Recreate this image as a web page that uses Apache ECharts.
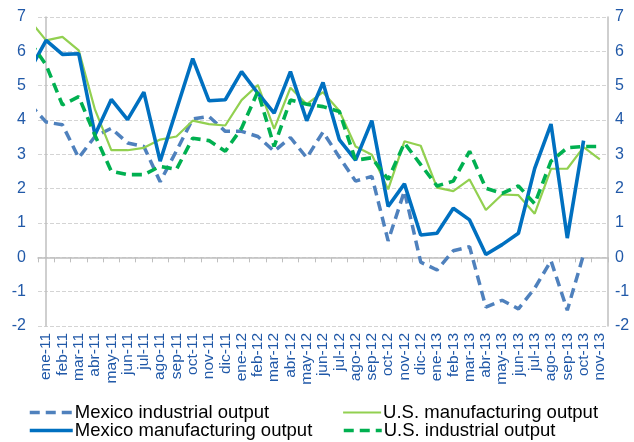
<!DOCTYPE html>
<html>
<head>
<meta charset="utf-8">
<script src="https://cdn.jsdelivr.net/npm/echarts@6/dist/echarts.min.js"></script>
<style>html,body{margin:0;padding:0;background:#fff}#c{width:634px;height:442px}</style>
</head>
<body>
<div id="c"></div>
<script>
// Month labels (first entry is the month before the visible range; it only feeds the line's lead-in)
const leadMonth = 'dic-10';
const months = ['ene-11','feb-11','mar-11','abr-11','may-11','jun-11','jul-11','ago-11','sep-11','oct-11','nov-11','dic-11',
  'ene-12','feb-12','mar-12','abr-12','may-12','jun-12','jul-12','ago-12','sep-12','oct-12','nov-12','dic-12',
  'ene-13','feb-13','mar-13','abr-13','may-13','jun-13','jul-13','ago-13','sep-13','oct-13','nov-13'];
const yTicks = [-2,-1,0,1,2,3,4,5,6,7];

// Values (lead-in value for dic-10 first, then ene-11 ... nov-13)
const mexicoIndustrial = [4.46,
  3.94,3.86,2.90,3.52,3.76,3.33,3.23,2.20,3.10,4.03,4.10,3.67,
  3.67,3.52,3.09,3.49,2.90,3.65,2.92,2.22,2.36,0.48,1.93,-0.14,
  -0.37,0.19,0.31,-1.45,-1.25,-1.50,-0.90,-0.10,-1.54,0.08,null];
const usManufacturing = [6.90,
  6.32,6.42,6.03,4.30,3.12,3.12,3.19,3.43,3.52,3.98,3.88,3.84,
  4.58,5.02,3.74,4.94,4.46,4.81,4.27,3.23,2.99,1.98,3.38,3.25,
  2.03,1.93,2.27,1.38,1.83,1.81,1.27,2.58,2.58,3.21,2.85];
const mexicoManufacturing = [5.46,
  6.32,5.91,5.93,3.57,4.60,4.01,4.81,2.80,4.30,5.79,4.56,4.59,
  5.41,4.78,4.20,5.41,3.98,5.09,3.43,2.83,3.98,1.48,2.14,0.65,
  0.70,1.43,1.09,0.08,0.37,0.70,2.59,3.88,0.56,3.40,null];
const usIndustrial = [6.28,
  5.60,4.44,4.68,3.55,2.51,2.41,2.41,2.65,2.56,3.47,3.40,3.09,
  3.76,4.83,3.23,4.58,4.46,4.39,4.25,2.83,2.90,2.27,3.33,2.70,
  2.08,2.22,3.09,2.01,1.86,2.08,1.56,2.80,3.19,3.23,3.23];

const names = ['Mexico industrial output','U.S. manufacturing output','Mexico manufacturing output','U.S. industrial output'];

function pts(arr){
  // x position = category index (lead-in month at -1)
  const out = [];
  arr.forEach((v,k)=>{ if(v!==null) out.push([k-1, v]); });
  return out;
}

const blueText = '#2159A8';
const axisGray = '#BFBFBF';
const font = '"Liberation Sans", Arial, sans-serif';

function legendItem(name, left, top, w, lw){
  return {orient:'horizontal', left:left, top:top, padding:0, itemWidth:w, itemHeight:12, itemGap:0,
    itemStyle:{opacity:0},
    lineStyle:{width:lw},
    textStyle:{color:'#000', fontSize:18.5, lineHeight:18, fontFamily:font, padding:[0,0,0,-3]},
    data:[name]};
}

const chart = echarts.init(document.getElementById('c'), null, {renderer:'canvas'});
chart.setOption({
  animation:false,
  backgroundColor:'#ffffff',
  grid:{left:38, right:26, top:17, bottom:116, containLabel:false},
  legend:[
    legendItem(names[0], 28, 403, 43, 3.5),
    legendItem(names[2], 28, 421, 43, 3.5),
    legendItem(names[1], 342, 403, 38, 2.2),
    legendItem(names[3], 342, 421, 38, 3.5)
  ],
  xAxis:[
    { // zero line with ticks
      type:'category', data:months, boundaryGap:true,
      axisLine:{show:true, onZero:true, onZeroAxisIndex:0, lineStyle:{color:axisGray, width:1.5}},
      axisTick:{show:true, length:5, alignWithLabel:false, interval:0, inside:false, lineStyle:{color:axisGray, width:1}},
      axisLabel:{show:false}, splitLine:{show:false}
    },
    { // bottom labels
      type:'category', data:months, boundaryGap:true, position:'bottom',
      axisLine:{show:false, onZero:false}, axisTick:{show:false},
      axisLabel:{show:true, interval:0, rotate:90, margin:7, color:blueText, fontSize:15.5, fontFamily:font},
      splitLine:{show:false}
    },
    { // hidden value axis for positioning series points on category centres
      type:'value', min:-0.5, max:months.length-0.5, show:false,
      splitLine:{show:false}
    }
  ],
  yAxis:[
    {type:'value', min:-2, max:7, interval:1, position:'left',
     axisLine:{show:true, lineStyle:{color:axisGray, width:1.5}},
     axisTick:{show:false},
     axisLabel:{color:blueText, fontSize:16, fontFamily:font, margin:12},
     splitLine:{show:true, lineStyle:{color:'#D4D4D4', type:[4,2], width:1}}},
    {type:'value', min:-2, max:7, interval:1, position:'right',
     axisLine:{show:true, lineStyle:{color:axisGray, width:1.5}},
     axisTick:{show:false},
     axisLabel:{color:blueText, fontSize:16, fontFamily:font, margin:7},
     splitLine:{show:false}}
  ],
  series:[
    {name:names[0], type:'line', xAxisIndex:2, yAxisIndex:0, data:pts(mexicoIndustrial), symbol:'none', clip:true,
     lineStyle:{color:'#4F81BD', width:3.5, type:[10,6]}, itemStyle:{color:'#4F81BD'}, z:2},
    {name:names[1], type:'line', xAxisIndex:2, yAxisIndex:0, data:pts(usManufacturing), symbol:'none', clip:true,
     lineStyle:{color:'#92D050', width:2.2}, itemStyle:{color:'#92D050'}, z:3},
    {name:names[2], type:'line', xAxisIndex:2, yAxisIndex:0, data:pts(mexicoManufacturing), symbol:'none', clip:true,
     lineStyle:{color:'#0070C0', width:3.6}, itemStyle:{color:'#0070C0'}, z:4},
    {name:names[3], type:'line', xAxisIndex:2, yAxisIndex:0, data:pts(usIndustrial), symbol:'none', clip:true,
     lineStyle:{color:'#00B050', width:3.6, type:[10,6]}, itemStyle:{color:'#00B050'}, z:5}
  ]
});
</script>
</body>
</html>
